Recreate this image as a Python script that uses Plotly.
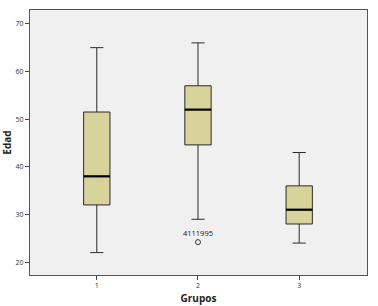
import plotly.graph_objects as go

groups = [1, 2, 3]
lower = [22, 29, 24]
q1 = [32, 44.6, 28]
median = [38, 52, 31]
q3 = [51.5, 57, 36]
upper = [65, 66, 43]
outlier_x = [2]
outlier_y = [24.2]
outlier_label = ["4111995"]
tick_vals = [20, 30, 40, 50, 60, 70]

box_w = 0.26
fig = go.Figure()
fig.add_trace(go.Box(
    x=groups, q1=q1, median=median, q3=q3, lowerfence=lower, upperfence=upper,
    fillcolor="#D7D39B", line=dict(color="#2a2a2a", width=1),
    width=box_w, whiskerwidth=0.5, boxpoints=False, showlegend=False,
    hoverinfo="skip",
))
mx, my = [], []
for g, m in zip(groups, median):
    mx += [g - box_w / 2, g + box_w / 2, None]
    my += [m, m, None]
fig.add_trace(go.Scatter(x=mx, y=my, mode="lines", line=dict(color="black", width=2.2),
                         showlegend=False, hoverinfo="skip"))
fig.add_trace(go.Scatter(x=outlier_x, y=outlier_y, mode="markers+text",
                         marker=dict(symbol="circle-open", size=5, color="#333", line=dict(width=1)),
                         text=outlier_label, textposition="top center",
                         textfont=dict(size=7.5, color="#111"), showlegend=False))

fig.update_layout(
    width=378, height=306,
    margin=dict(l=30, r=11, t=10, b=31, autoexpand=False),
    paper_bgcolor="white", plot_bgcolor="#F0F0F0",
    font=dict(family="Open Sans", size=7, color="#333"),
    xaxis=dict(range=[0.34, 3.67], tickvals=groups, ticks="outside", ticklen=4,
               tickcolor="#444", showgrid=False, zeroline=False, showline=True,
               linecolor="#555", mirror=True, automargin=False,
               title=dict(text="<b>Grupos</b>", font=dict(size=10, color="#222"), standoff=5)),
    yaxis=dict(range=[17.3, 72.9], tickvals=tick_vals, ticks="outside", ticklen=4,
               tickcolor="#444", showgrid=False, zeroline=False, showline=True,
               linecolor="#555", mirror=True, automargin=False,
               title=dict(text="<b>Edad</b>", font=dict(size=10, color="#222"), standoff=4)),
)
fig.write_html("out.html", config={"displayModeBar": False},
               post_script="document.body.style.margin='0';document.body.style.overflow='hidden';")
